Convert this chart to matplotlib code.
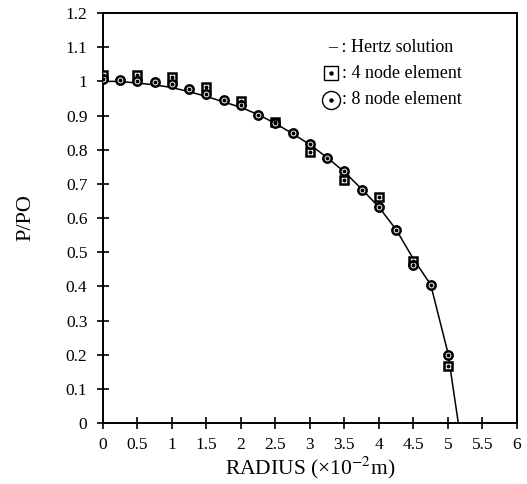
import matplotlib
matplotlib.use("Agg")
import matplotlib.pyplot as plt
import numpy as np

plt.rcParams["font.family"] = ["Liberation Serif", "DejaVu Serif"]
plt.rcParams["mathtext.fontset"] = "stix"

# Hertz contact pressure curve (radius in 1e-2 m, normalised pressure)
hertz_r = [0, 0.25, 0.5, 0.75, 1.0, 1.25, 1.5, 1.75, 2.0, 2.25, 2.5, 2.75,
           3.0, 3.25, 3.5, 3.75, 4.0, 4.25, 4.5, 4.75, 5.0, 5.15]
hertz_p = [1.0, 1.0, 0.995, 0.99, 0.982, 0.97, 0.956, 0.94, 0.924, 0.903, 0.877, 0.847,
           0.815, 0.777, 0.735, 0.685, 0.632, 0.566, 0.48, 0.405, 0.205, 0.0]

# 4 node element results
quad4_r = [0, 0.5, 1.0, 1.5, 2.0, 2.5, 3.0, 3.5, 4.0, 4.5, 5.0]
quad4_p = [1.018, 1.018, 1.012, 0.985, 0.944, 0.88, 0.793, 0.711, 0.662, 0.475, 0.168]

# 8 node element results
quad8_r = [0, 0.25, 0.5, 0.75, 1.0, 1.25, 1.5, 1.75, 2.0, 2.25, 2.5, 2.75,
           3.0, 3.25, 3.5, 3.75, 4.0, 4.25, 4.5, 4.75, 5.0]
quad8_p = [1.008, 1.003, 1.0, 0.997, 0.993, 0.978, 0.963, 0.945, 0.93, 0.903, 0.877, 0.848,
           0.818, 0.777, 0.737, 0.683, 0.633, 0.566, 0.462, 0.405, 0.2]

x_ticks = np.arange(0, 6.01, 0.5)
x_labels = ["0", "0.5", "1", "1.5", "2", "2.5", "3", "3.5", "4", "4.5", "5", "5.5", "6"]
y_ticks = np.arange(0, 1.201, 0.1)
y_labels = ["0", "0.1", "0.2", "0.3", "0.4", "0.5", "0.6", "0.7", "0.8", "0.9", "1", "1.1", "1.2"]

fig = plt.figure(figsize=(5.27, 4.84), dpi=100)
ax = fig.add_axes([0.195, 0.126, 0.786, 0.847])

ax.plot(hertz_r, hertz_p, color="black", lw=1.1, zorder=2)

ax.plot(quad4_r, quad4_p, ls="none", marker="s", ms=5.5, mfc="white", mec="black", mew=1.8, zorder=3)
ax.plot(quad4_r, quad4_p, ls="none", marker="o", ms=1.8, color="black", zorder=4)
ax.plot(quad8_r, quad8_p, ls="none", marker="o", ms=6, mfc="white", mec="black", mew=1.8, zorder=3)
ax.plot(quad8_r, quad8_p, ls="none", marker="o", ms=1.8, color="black", zorder=4)

ax.set_xlim(0, 6)
ax.set_ylim(0, 1.2)
ax.set_xticks(x_ticks)
ax.set_xticklabels(x_labels)
ax.set_yticks(y_ticks)
ax.set_yticklabels(y_labels)
ax.tick_params(direction="inout", length=8, width=1.2, labelsize=12.5, top=False, right=False)
ax.tick_params(axis="x", pad=6)
ax.tick_params(axis="y", pad=7)
for s in ax.spines.values():
    s.set_linewidth(1.4)

ax.set_xlabel("RADIUS (×10$^{-2}$m)", fontsize=15.5, labelpad=1)
ax.set_ylabel("P/PO", fontsize=16, labelpad=22)

# legend block, upper right
tr = ax.transAxes
ax.text(0.545, 0.915, "\u2013 : Hertz solution", transform=tr, fontsize=13, va="center")
ax.plot([0.552], [0.853], transform=tr, marker="s", ms=10, mfc="white", mec="black", mew=1.0, clip_on=False)
ax.plot([0.552], [0.853], transform=tr, marker="o", ms=2.2, color="black", clip_on=False)
ax.text(0.578, 0.853, ": 4 node element", transform=tr, fontsize=13, va="center")
ax.plot([0.552], [0.788], transform=tr, marker="o", ms=13, mfc="white", mec="black", mew=1.0, clip_on=False)
ax.plot([0.552], [0.788], transform=tr, marker="o", ms=2.2, color="black", clip_on=False)
ax.text(0.578, 0.788, ": 8 node element", transform=tr, fontsize=13, va="center")

fig.savefig("out.png", dpi=100)
